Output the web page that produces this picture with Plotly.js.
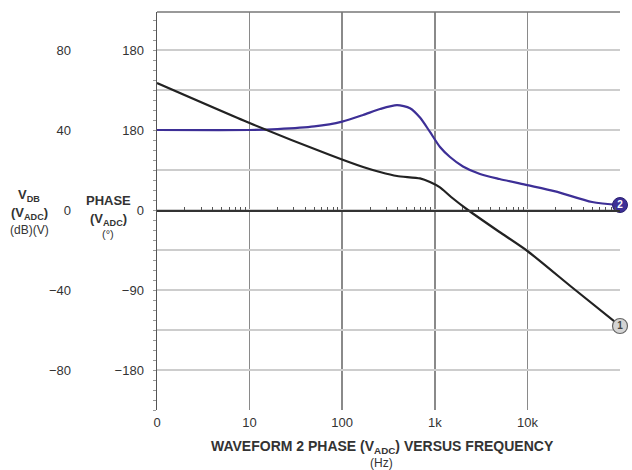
<!DOCTYPE html>
<html>
<head>
<meta charset="utf-8">
<script src="https://cdn.plot.ly/plotly-3.0.1.min.js"></script>
<style>html,body{margin:0;padding:0;background:#fff;}#chart{width:632px;height:470px;}</style>
</head>
<body>
<div id="chart"></div>
<script>
// ---- data ----
const freqDb = [1, 10, 74, 168, 256, 391, 692, 887, 1138, 1500, 2280, 5000, 10000, 30000, 100000];
const vdb    = [63.5, 43.5, 27.5, 21.5, 19, 17, 15.8, 14, 11.3, 6.5, 0, -11, -20.5, -38.5, -58];

const freqPhase = [1, 10, 20, 50, 100, 168, 256, 391, 540, 692, 887, 1138, 1459, 2014, 3076, 5000, 10000, 20000, 50000, 100000];
const phase     = [90, 90, 91, 94, 99.5, 106.9, 113.6, 118, 114.5, 104, 87.8, 70.9, 59.6, 49, 40.5, 34.9, 28, 21, 9, 5.6];

const xTickVals = [1, 10, 100, 1000, 10000, 100000];
const xTickText = ["0", "10", "100", "1k", "10k", ""];

const dbTickVals = [-80, -60, -40, -20, 0, 20, 40, 60, 80];
const dbTickText = ["\u221280", "", "\u221240", "", "0", "", "40", "", "80"];

const phaseTickVals = [-180, -90, 0, 90, 180];
const phaseTickText = ["\u2212180", "\u221290", "0", "180", "180"];

const seriesLabels = ["1", "2"];

// minor tick positions on the 0 line (2..9 in each decade)
const minorTicks = [];
for (let d = 0; d < 5; d++) for (let m = 2; m <= 9; m++) minorTicks.push(m * Math.pow(10, d));

// ---- layout helpers (pixel -> paper) ----
const L = 157, R = 12, T = 12, B = 60, W = 632, H = 470;
const pw = W - L - R, ph = H - T - B;
const xp = px => (px - L) / pw;
const yp = py => (H - B - py) / ph;

const BLUE = "#3d2f96";
const FONT = "Liberation Sans, Arial, sans-serif";

const traces = [
  {x: freqPhase, y: phase, xaxis: "x", yaxis: "y", mode: "lines",
   line: {color: BLUE, width: 2.2, shape: "spline", smoothing: 0.7}, hoverinfo: "skip"},
  {x: freqDb, y: vdb, xaxis: "x", yaxis: "y2", mode: "lines",
   line: {color: "#222", width: 2.2, shape: "spline", smoothing: 0.6}, hoverinfo: "skip"},
  {x: [freqPhase[freqPhase.length - 1]], y: [phase[phase.length - 1]], xaxis: "x", yaxis: "y",
   mode: "markers+text", text: [seriesLabels[1]], textposition: "middle center",
   textfont: {color: "#fff", size: 10, family: FONT, weight: "bold"},
   marker: {size: 15, color: BLUE, line: {color: "#2a2070", width: 1}}, cliponaxis: false, hoverinfo: "skip"},
  {x: [freqDb[freqDb.length - 1]], y: [vdb[vdb.length - 1]], xaxis: "x", yaxis: "y2",
   mode: "markers+text", text: [seriesLabels[0]], textposition: "middle center",
   textfont: {color: "#444", size: 10, family: FONT, weight: "bold"},
   marker: {size: 15, color: "#d4d4d4", line: {color: "#666", width: 1.2}}, cliponaxis: false, hoverinfo: "skip"},
  {x: [1, 100000], y: [0, 0], xaxis: "x2", yaxis: "y2", mode: "lines",
   line: {color: "rgba(0,0,0,0)", width: 0}, hoverinfo: "skip"}
];

const ann = (text, px, py, size, bold) => ({
  text: bold ? "<b>" + text + "</b>" : text, xref: "paper", yref: "paper",
  x: xp(px), y: yp(py), xanchor: "center", yanchor: "middle", showarrow: false,
  font: {family: FONT, size: size, color: "#333"}
});

const layout = {
  width: W, height: H,
  margin: {l: L, r: R, t: T, b: B, pad: 0},
  paper_bgcolor: "#fff", plot_bgcolor: "#fff",
  showlegend: false,
  font: {family: FONT, size: 13, color: "#333"},
  xaxis: {
    type: "log", range: [0, 5], tickvals: xTickVals, ticktext: xTickText,
    showgrid: true, gridcolor: "#8a8a8a", gridwidth: 1.5,
    zeroline: false, showline: false, ticks: "", ticklabelstandoff: 3,
    tickfont: {family: FONT, size: 13, color: "#333"}
  },
  xaxis2: {
    type: "log", range: [0, 5], overlaying: "x", anchor: "free", position: yp(210),
    showline: true, linecolor: "#333", linewidth: 1.5,
    tickvals: minorTicks, ticks: "inside", ticklen: 3, tickwidth: 1, tickcolor: "#555",
    showticklabels: false, showgrid: false, zeroline: false
  },
  yaxis: {
    range: [-225, 222.75], tickvals: phaseTickVals, ticktext: phaseTickText,
    showgrid: false, zeroline: false, showline: true, linecolor: "#555", linewidth: 1.5,
    ticks: "", ticklabelstandoff: 9,
    minor: {ticks: "outside", ticklen: 3, tickcolor: "#999", dtick: 11.25},
    tickfont: {family: FONT, size: 13, color: "#333"}
  },
  yaxis2: {
    range: [-100, 99], overlaying: "y", anchor: "x", side: "left",
    tickvals: dbTickVals, ticktext: dbTickText,
    showgrid: true, gridcolor: "#cdcdcd", gridwidth: 1.2,
    zeroline: false, showline: false, ticks: "", ticklabelstandoff: 85,
    tickfont: {family: FONT, size: 13, color: "#333"}
  },
  shapes: [
    {type: "line", xref: "paper", yref: "paper", x0: 0, x1: 1, y0: 1, y1: 1,
     line: {color: "#777", width: 1.5}}
  ],
  annotations: [
    ann("V<sub>DB</sub>", 29, 195, 13, true),
    ann("(V<sub>ADC</sub>)", 29, 213, 13, true),
    ann("(dB)(V)", 29, 230, 12, false),
    ann("PHASE", 108, 200, 13, true),
    ann("(V<sub>ADC</sub>)", 108, 219, 13, true),
    ann("(\u00b0)", 108, 234, 11, false),
    ann("WAVEFORM 2 PHASE (V<sub>ADC</sub>) VERSUS FREQUENCY", 382, 447, 14, true),
    ann("(Hz)", 381, 463, 12, false)
  ]
};

Plotly.newPlot("chart", traces, layout, {staticPlot: true, displayModeBar: false});
</script>
</body>
</html>
